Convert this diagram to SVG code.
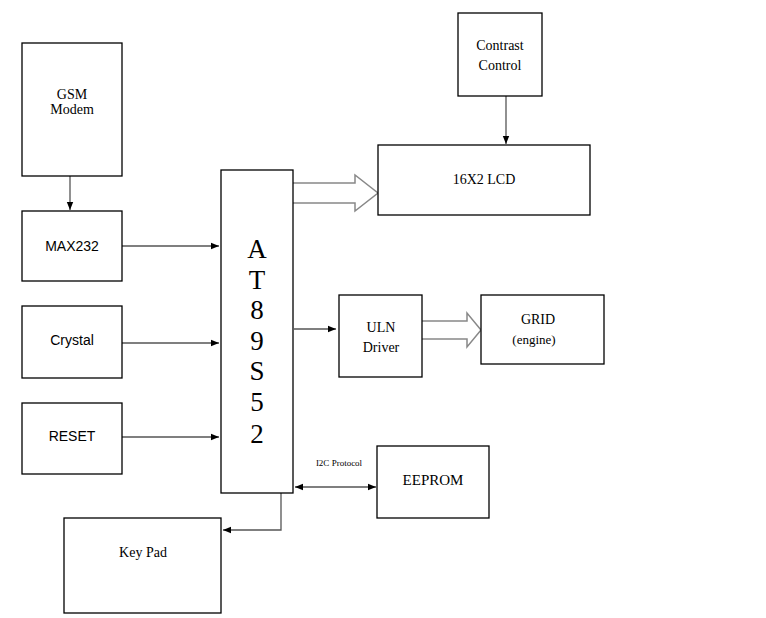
<svg xmlns="http://www.w3.org/2000/svg" width="766" height="618" viewBox="0 0 766 618">
<style>
.b{fill:#fff;stroke:#000;stroke-width:1.3}
.s{font-family:"Liberation Serif",serif;font-size:14px;text-anchor:middle;fill:#000}
.a{font-family:"Liberation Sans",sans-serif;font-size:14px;text-anchor:middle;fill:#000}
.big{font-family:"Liberation Serif",serif;font-size:27px;text-anchor:middle;fill:#000}
.c{stroke:#555;stroke-width:1.3;fill:none}
.h{fill:#fff;stroke:#888;stroke-width:1.5}
</style>
<defs><marker id="m" viewBox="0 0 10 10" refX="10" refY="5" markerWidth="8" markerHeight="8" markerUnits="userSpaceOnUse" orient="auto-start-reverse"><path d="M0,1 L10,5 L0,9z" fill="#000"/></marker></defs>
<rect width="766" height="618" fill="#fff"/>
<g id="connectors">
<line class="c" x1="70" y1="176" x2="70" y2="210" marker-end="url(#m)"/>
<line class="c" x1="122" y1="246" x2="219" y2="246" marker-end="url(#m)"/>
<line class="c" x1="122" y1="343" x2="219" y2="343" marker-end="url(#m)"/>
<line class="c" x1="122" y1="437" x2="219" y2="437" marker-end="url(#m)"/>
<line class="c" x1="506" y1="96" x2="506" y2="144" marker-end="url(#m)"/>
<line class="c" x1="294" y1="329" x2="336" y2="329" marker-end="url(#m)"/>
<line class="c" x1="295" y1="487" x2="376" y2="487" marker-start="url(#m)" marker-end="url(#m)"/>
<polyline class="c" points="281,493 281,530 223,530" marker-end="url(#m)"/>
<path class="h" d="M293,183 H355 V175 L378,193 L355,211 V203 H293"/>
<path class="h" d="M422,321 H467 V313 L481,330 L467,347 V339 H422"/>
<text x="339" y="466" style="font-family:'Liberation Serif',serif;font-size:9px;text-anchor:middle">I2C Protocol</text>
</g>
<g id="gsm"><rect class="b" x="22" y="43" width="100" height="133"/><text class="s" x="72" y="99">GSM</text><text class="s" x="72" y="114">Modem</text></g>
<g id="max232"><rect class="b" x="22" y="211" width="100" height="70"/><text class="a" x="72" y="251">MAX232</text></g>
<g id="crystal"><rect class="b" x="22" y="306" width="100" height="72"/><text class="a" x="72" y="345">Crystal</text></g>
<g id="reset"><rect class="b" x="22" y="403" width="100" height="71"/><text class="a" x="72" y="441">RESET</text></g>
<g id="mcu"><rect class="b" x="221" y="170" width="72" height="323"/>
<text class="big" x="257" y="258">A</text><text class="big" x="257" y="289">T</text><text class="big" x="257" y="319">8</text><text class="big" x="257" y="350">9</text><text class="big" x="257" y="380">S</text><text class="big" x="257" y="411">5</text><text class="big" x="257" y="443">2</text></g>
<g id="contrast"><rect class="b" x="458" y="13" width="84" height="83"/><text class="s" x="500" y="50">Contrast</text><text class="s" x="500" y="70">Control</text></g>
<g id="lcd"><rect class="b" x="378" y="145" width="212" height="70"/><text class="s" x="484" y="184">16X2 LCD</text></g>
<g id="uln"><rect class="b" x="339" y="295" width="83" height="82"/><text class="s" x="381" y="332">ULN</text><text class="s" x="381" y="352">Driver</text></g>
<g id="grid"><rect class="b" x="481" y="295" width="123" height="69"/><text class="s" x="538" y="324">GRID</text><text class="s" x="534" y="344" style="font-size:13px">(engine)</text></g>
<g id="eeprom"><rect class="b" x="377" y="446" width="112" height="72"/><text class="s" x="433" y="485" style="font-size:15px">EEPROM</text></g>
<g id="keypad"><rect class="b" x="64" y="518" width="157" height="95"/><text class="s" x="143" y="557">Key Pad</text></g>
</svg>
